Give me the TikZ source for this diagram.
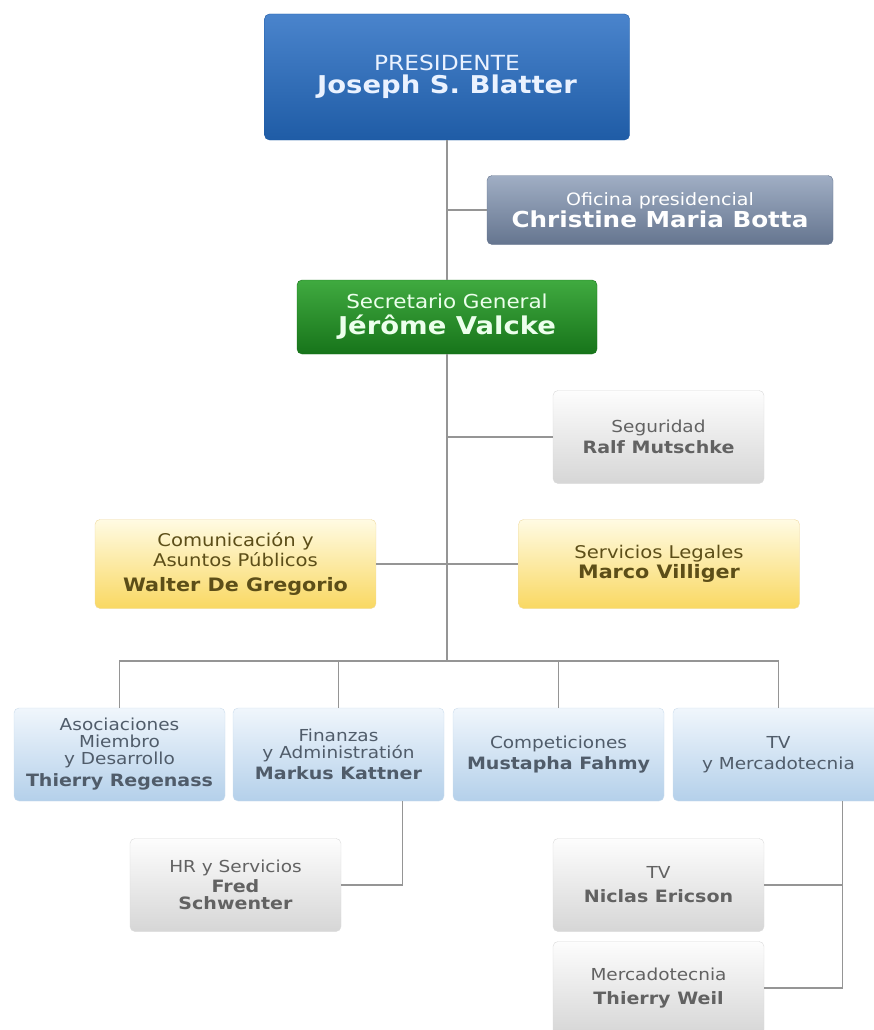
\documentclass[tikz,border=0pt]{standalone}
\usepackage{fontspec}
\setmainfont{DejaVu Sans}[FakeStretch=1.12]
\definecolor{linegray}{HTML}{959595}
\definecolor{presT}{HTML}{4A84CC}\definecolor{presB}{HTML}{1F5CA6}\definecolor{presTx}{HTML}{EAF2FF}
\definecolor{ofiT}{HTML}{A0AEC4}\definecolor{ofiB}{HTML}{65758F}
\definecolor{secT}{HTML}{40AA40}\definecolor{secB}{HTML}{17741A}\definecolor{secTx}{HTML}{ECFFEC}
\definecolor{greyT}{HTML}{FDFDFD}\definecolor{greyB}{HTML}{D6D6D6}\definecolor{greyD}{HTML}{DADADA}\definecolor{greyTx}{HTML}{626262}
\definecolor{yelT}{HTML}{FFFBE3}\definecolor{yelB}{HTML}{F9D862}\definecolor{yelD}{HTML}{EED9A0}\definecolor{yelTx}{HTML}{5C4E18}
\definecolor{bluT}{HTML}{F0F6FC}\definecolor{bluB}{HTML}{B4D0EA}\definecolor{bluD}{HTML}{CADCEC}\definecolor{bluTx}{HTML}{505C6A}
\newcommand{\nm}[2][17]{{\fontsize{#1}{17}\selectfont\bfseries #2}}
\begin{document}
\begin{tikzpicture}[x=1pt,y=-1pt,
    card/.style={rounded corners=5pt,align=center,inner sep=0pt,minimum width=211pt,minimum height=93pt},
    greycard/.style={card,top color=greyT,bottom color=greyB,draw=greyD,text=greyTx,font=\fontsize{16.5}{17}\selectfont},
    yellowcard/.style={card,top color=yelT,bottom color=yelB,draw=yelD,text=yelTx,minimum width=281pt,minimum height=89pt,font=\fontsize{17.5}{20}\selectfont},
    bluecard/.style={card,top color=bluT,bottom color=bluB,draw=bluD,text=bluTx,font=\fontsize{16.5}{17}\selectfont},
    link/.style={draw=linegray,line width=1.3pt}]
\useasboundingbox (0,0) rectangle (874,1030);
\clip (0,0) rectangle (874,1030);
\node[card,top color=presT,bottom color=presB,draw=presB,text=presTx,minimum width=365pt,minimum height=126pt,font=\fontsize{20.8}{23}\selectfont] (pres) at (447,77) {PRESIDENTE\\\nm[24.5]{Joseph S. Blatter}};
\node[card,top color=ofiT,bottom color=ofiB,draw=ofiB,text=white,minimum width=346pt,minimum height=69pt,font=\fontsize{17}{22}\selectfont] (ofi) at (660,210) {Oficina presidencial\\\nm[22]{Christine Maria Botta}};
\node[card,top color=secT,bottom color=secB,draw=secB,text=secTx,minimum width=300pt,minimum height=74pt,font=\fontsize{19.2}{26}\selectfont] (sec) at (447,317) {Secretario General\\\nm[24.5]{Jérôme Valcke}};
\node[greycard] (seg) at (658.5,437) {Seguridad\\[4pt]\nm{Ralf Mutschke}};
\node[yellowcard] (com) at (235.5,564) {Comunicación y\\Asuntos Públicos\\[5pt]\nm[18.5]{Walter De Gregorio}};
\node[yellowcard] (leg) at (659,564) {Servicios Legales\\\nm[18.5]{Marco Villiger}};
\node[bluecard] (aso) at (119.5,754.5) {Asociaciones\\Miembro\\y Desarrollo\\[5pt]\nm{Thierry Regenass}};
\node[bluecard] (fin) at (338.5,754.5) {Finanzas\\y Administratión\\[4pt]\nm{Markus Kattner}};
\node[bluecard] (cpt) at (558.5,754.5) {Competiciones\\[4pt]\nm{Mustapha Fahmy}};
\node[bluecard] (tvm) at (778.5,754.5) {TV\\[4pt]y Mercadotecnia};
\node[greycard] (hr) at (235.5,885) {HR y Servicios\\[3pt]\nm{Fred}\\\nm{Schwenter}};
\node[greycard] (tv) at (658.5,885) {TV\\[7pt]\nm{Niclas Ericson}};
\node[greycard] (mkt) at (658.5,988) {Mercadotecnia\\[7pt]\nm{Thierry Weil}};
\coordinate (bus) at (447,661);
\draw[link] (pres) -- (sec);
\draw[link] (pres.south |- ofi) -- (ofi);
\draw[link] (sec) -- (bus);
\draw[link] (sec.south |- seg) -- (seg);
\draw[link] (com) -- (leg);
\draw[link] (aso) |- (bus) -| (tvm);
\draw[link] (fin) -- (fin |- bus);
\draw[link] (cpt) -- (cpt |- bus);
\coordinate (finleg) at ([xshift=-42pt]fin.south east);
\draw[link] (finleg) |- (hr);
\coordinate (tvmleg) at ([xshift=-42pt]tvm.south east);
\draw[link] (tvmleg) |- (mkt);
\draw[link] (tv) -- (tv -| tvmleg);
\end{tikzpicture}
\end{document}
